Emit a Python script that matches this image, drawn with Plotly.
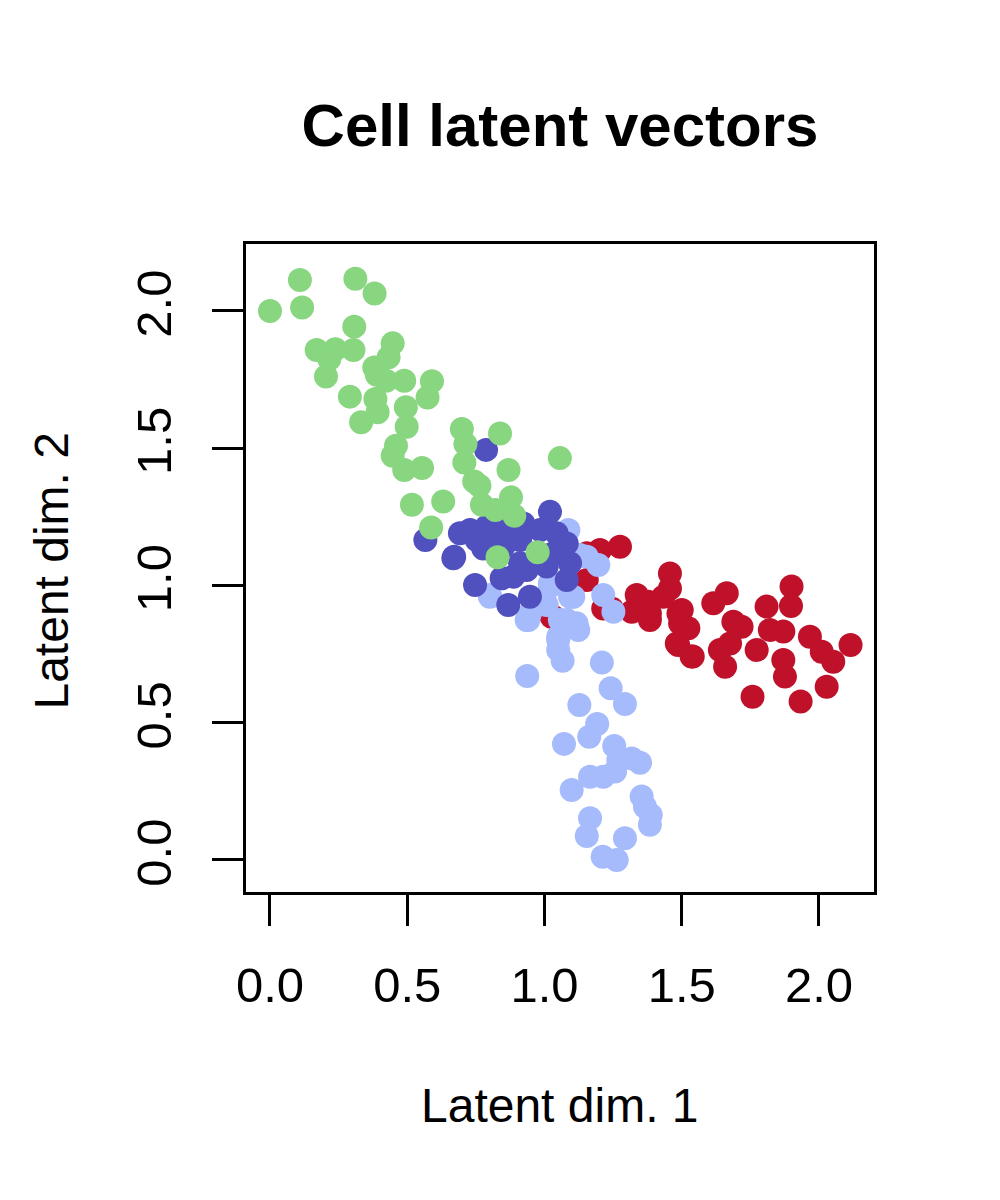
import plotly.graph_objects as go

# cluster coordinates (latent dim 1, latent dim 2)
red_x = [1.275, 1.202, 1.154, 1.154, 1.457, 1.457, 1.336, 1.378, 1.433, 1.318, 1.384, 1.245,
         1.500, 1.494, 1.524, 1.487, 1.540, 1.615, 1.664, 1.688, 1.718, 1.676, 1.639, 1.658,
         1.773, 1.809, 1.821, 1.870, 1.870, 1.876, 1.900, 1.898, 1.967, 2.010, 2.052, 2.115,
         2.028, 1.933, 1.758, 1.214, 1.026, 1.384, 1.488, 1.482, 1.536, 1.032]
red_y = [1.141, 1.129, 1.117, 1.020, 1.044, 0.989, 0.965, 0.941, 0.959, 0.904, 0.874, 0.916,
         0.911, 0.862, 0.844, 0.783, 0.741, 0.935, 0.972, 0.868, 0.850, 0.789, 0.765, 0.704,
         0.765, 0.923, 0.838, 0.832, 0.729, 0.668, 0.996, 0.925, 0.813, 0.759, 0.722, 0.783,
         0.631, 0.577, 0.595, 0.916, 0.886, 0.898, 0.898, 0.789, 0.741, 0.886]

light_x = [0.801, 0.941, 0.937, 1.050, 1.050, 1.066, 1.081, 1.123, 1.105, 1.008, 1.214, 1.251,
           1.209, 1.241, 1.293, 1.127, 1.192, 1.163, 1.071, 1.254, 1.269, 1.318, 1.348, 1.257,
           1.214, 1.166, 1.099, 1.354, 1.366, 1.387, 1.384, 1.166, 1.154, 1.293, 1.212, 1.263,
           1.154, 1.196, 1.099, 0.935, 1.056, 1.117, 1.050, 0.996, 1.020, 1.087, 0.801, 1.020,
           1.093, 0.947, 1.129]
light_y = [0.965, 0.874, 0.670, 0.801, 0.765, 0.726, 0.874, 0.838, 0.959, 0.929, 0.965, 0.904,
           0.719, 0.626, 0.568, 0.565, 0.495, 0.449, 0.423, 0.415, 0.364, 0.370, 0.354, 0.322,
           0.303, 0.303, 0.255, 0.231, 0.194, 0.164, 0.128, 0.152, 0.087, 0.079, 0.012, 0.000,
           1.105, 1.075, 0.959, 0.874, 0.874, 0.862, 0.813, 0.947, 0.996, 1.202, 0.959, 1.008,
           0.959, 0.898, 1.111]

dark_x = [0.787, 0.566, 0.671, 0.668, 0.692, 0.747, 0.868, 0.947, 1.020, 0.729, 0.789, 0.862,
          0.923, 0.777, 0.850, 0.911, 0.984, 1.044, 1.081, 1.032, 1.093, 1.081, 1.008, 0.935,
          0.886, 0.844, 0.911, 0.814, 0.753]
dark_y = [1.494, 1.166, 1.105, 1.099, 1.190, 1.002, 0.929, 0.959, 1.269, 1.202, 1.214, 1.214,
          1.226, 1.135, 1.141, 1.166, 1.202, 1.190, 1.153, 1.117, 1.081, 1.020, 1.069, 1.056,
          1.032, 1.026, 1.081, 1.178, 1.166]

green_x = [0.000, 0.109, 0.117, 0.311, 0.381, 0.307, 0.170, 0.238, 0.304, 0.216, 0.204, 0.447,
           0.432, 0.380, 0.389, 0.423, 0.489, 0.590, 0.574, 0.291, 0.384, 0.392, 0.332, 0.495,
           0.498, 0.459, 0.447, 0.489, 0.554, 0.517, 0.631, 0.587, 0.699, 0.712, 0.708, 0.838,
           0.744, 0.763, 0.869, 0.772, 0.821, 0.878, 0.890, 1.056, 0.975, 0.829]
green_y = [2.000, 2.113, 2.013, 2.117, 2.064, 1.943, 1.858, 1.861, 1.858, 1.825, 1.761, 1.882,
           1.831, 1.794, 1.768, 1.746, 1.746, 1.744, 1.685, 1.688, 1.679, 1.631, 1.595, 1.649,
           1.578, 1.509, 1.473, 1.421, 1.428, 1.294, 1.306, 1.211, 1.570, 1.515, 1.448, 1.554,
           1.379, 1.363, 1.421, 1.294, 1.275, 1.321, 1.254, 1.464, 1.121, 1.103]

x_ticks = [0.0, 0.5, 1.0, 1.5, 2.0]
y_ticks = [0.0, 0.5, 1.0, 1.5, 2.0]

font = "Liberation Sans, Arial, Helvetica, sans-serif"

fig = go.Figure()
for xs, ys, col in [(red_x, red_y, "#c0112a"),
                    (light_x, light_y, "#a6bbfc"),
                    (dark_x, dark_y, "#5050be"),
                    (green_x, green_y, "#88d680")]:
    fig.add_trace(go.Scatter(x=xs, y=ys, mode="markers",
                             marker=dict(size=24, color=col, line_width=0)))

axis_common = dict(showgrid=False, zeroline=False, showline=True, mirror=True,
                   linecolor="black", linewidth=2.5, ticks="outside", ticklen=31,
                   tickwidth=2.5, tickcolor="black",
                   tickfont=dict(family=font, size=49, color="black"))

fig.update_xaxes(range=[-0.0874, 2.2004], tickvals=x_ticks,
                 ticktext=[f"{v:.1f}" for v in x_ticks], ticklabelstandoff=17,
                 **axis_common)
fig.update_yaxes(range=[-0.1166, 2.244], tickvals=y_ticks,
                 ticktext=[f"{v:.1f}" for v in y_ticks], tickangle=-90,
                 ticklabelstandoff=22, **axis_common)

fig.update_layout(
    width=1000, height=1200,
    margin=dict(l=238, r=134, t=236, b=316),
    plot_bgcolor="white", paper_bgcolor="white",
    showlegend=False,
    title=dict(text="<b>Cell latent vectors</b>", x=0.5, xref="paper",
               y=1 - 117 / 1200, yanchor="middle",
               font=dict(family=font, size=60, color="black")),
    annotations=[
        dict(text="Latent dim. 1", xref="paper", yref="paper", x=0.5, y=-0.329,
             showarrow=False, xanchor="center", yanchor="middle",
             font=dict(family=font, size=48, color="black")),
        dict(text="Latent dim. 2", xref="paper", yref="paper", x=-0.309, y=0.496,
             showarrow=False, textangle=-90, xanchor="center", yanchor="middle",
             font=dict(family=font, size=48, color="black")),
    ],
)

fig.write_html("out.html")
